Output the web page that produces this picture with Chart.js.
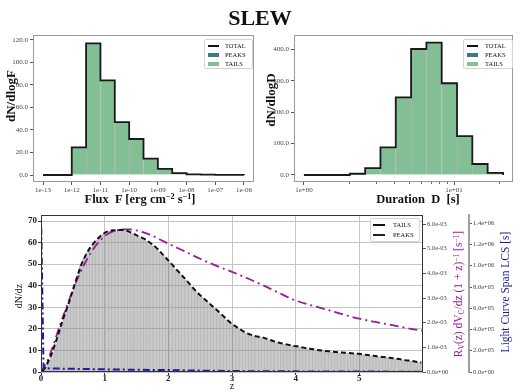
<!DOCTYPE html>
<html>
<head>
<meta charset="utf-8">
<script src="https://cdn.jsdelivr.net/npm/chart.js@4.4.0/dist/chart.umd.min.js"></script>
<style>
body { margin: 0; background: #fff; }
#main { position: relative; width: 519px; height: 390px; overflow: hidden; font-family: 'Liberation Serif', 'DejaVu Serif', serif; color: #111; }
canvas { position: absolute; }
.txt { position: absolute; white-space: nowrap; transform: translate(-50%, -50%); line-height: 1; }
.rot { transform: translate(-50%, -50%) rotate(-90deg); }
.txt sup { font-size: 0.65em; vertical-align: 0.5em; line-height: 0; }
.txt sub { font-size: 0.65em; vertical-align: -0.25em; line-height: 0; }
.legend { position: absolute; border: 1px solid #d4d4d4; border-radius: 2px; background: rgba(255,255,255,0.9); font-size: 6.5px; }
.legend span { position: absolute; white-space: nowrap; line-height: 1; transform: translateY(-50%); }
.legend i { position: absolute; display: block; }
</style>
</head>
<body>
<div id="main">
	<canvas id="flux" width="262" height="178" style="left:0px;top:28px"></canvas>
	<canvas id="dur" width="257" height="178" style="left:262px;top:28px"></canvas>
	<canvas id="zdist" width="519" height="182" style="left:0px;top:208px"></canvas>

	<div class="txt" style="left:260px;top:18px;font-size:22px;font-weight:bold">SLEW</div>
	<div class="txt" style="left:140px;top:199px;font-size:12.5px;font-weight:bold">Flux&nbsp; F [erg cm<sup>−2</sup> s<sup>−1</sup>]</div>
	<div class="txt" style="left:418px;top:199px;font-size:12.5px;font-weight:bold">Duration&nbsp; D&nbsp; [s]</div>
	<div class="txt rot" style="left:10px;top:96px;font-size:13px;font-weight:bold">dN/dlogF</div>
	<div class="txt rot" style="left:270px;top:100px;font-size:13px;font-weight:bold">dN/dlogD</div>
	<div class="txt rot" style="left:19px;top:296px;font-size:10px">dN/dz</div>
	<div class="txt" style="left:232px;top:386px;font-size:10px">z</div>
	<div class="txt rot" style="left:459px;top:294px;font-size:11.5px;color:#9a1a9a">R<sub>V</sub>(z) dV<sub>C</sub>/dz (1 + z)<sup>−1</sup> [s<sup>−1</sup>]</div>
	<div class="txt rot" style="left:506px;top:292px;font-size:11.5px;color:#1c1ca0">Light Curve Span LCS [s]</div>

	<div class="legend" style="left:204px;top:39px;width:47px;height:28px">
		<i style="left:3px;top:5px;width:11px;height:1.8px;background:#111"></i><span style="left:20px;top:6px">TOTAL</span>
		<i style="left:3px;top:12.5px;width:11px;height:4.5px;background:#3b7a82"></i><span style="left:20px;top:15px">PEAKS</span>
		<i style="left:3px;top:21.5px;width:11px;height:4.5px;background:#83bf95"></i><span style="left:20px;top:24px">TAILS</span>
	</div>
	<div class="legend" style="left:463px;top:39px;width:48px;height:28px">
		<i style="left:3px;top:5px;width:11px;height:1.8px;background:#111"></i><span style="left:21px;top:6px">TOTAL</span>
		<i style="left:3px;top:12.5px;width:11px;height:4.5px;background:#3b7a82"></i><span style="left:21px;top:15px">PEAKS</span>
		<i style="left:3px;top:21.5px;width:11px;height:4.5px;background:#83bf95"></i><span style="left:21px;top:24px">TAILS</span>
	</div>
	<div class="legend" style="left:370px;top:218px;width:48px;height:22px">
		<i style="left:2px;top:5px;width:12px;height:0;border-top:2px dashed #111"></i><span style="left:22px;top:6px">TAILS</span>
		<i style="left:2px;top:15px;width:12px;height:1.5px;background:#222"></i><span style="left:22px;top:16px">PEAKS</span>
	</div>
</div>

<script>
// flux histogram (log10 of flux on x)
const fluxEdges = [-13, -12.5, -12, -11.5, -11, -10.5, -10, -9.5, -9, -8.5, -8, -7.5, -7, -6.5, -6]
const fluxCounts = [0, 0, 24.5, 117, 84, 47, 32, 14.5, 5.5, 1.6, 0.6, 0.3, 0.2, 0.1]
const fluxTicks = [-13, -12, -11, -10, -9, -8, -7, -6]
const fluxYTicks = [0, 20, 40, 60, 80, 100, 120]

// duration histogram (log10 of duration on x)
const durEdges = [0, 0.102, 0.204, 0.306, 0.408, 0.51, 0.612, 0.714, 0.816, 0.918, 1.02, 1.122, 1.224, 1.327]
const durCounts = [0, 0, 0, 4, 22, 88, 247, 401, 421, 292, 124, 35, 7]
const durTicks = [0, 1]
const durMinorTicks = [0.301, 0.477, 0.602, 0.699, 0.778, 0.845, 0.903, 0.954, 1.301]
const durYTicks = [0, 100, 200, 300, 400]

// redshift distribution, bins of 0.05 from z = 0 to 6
const zBinWidth = 0.05
const tailsCounts = [
	0.5, 2.2, 5.7, 9.0, 13.3, 17.8, 22.5, 27.0, 31.0, 35.6,
	40.3, 44.8, 49.2, 52.6, 55.5, 57.8, 59.6, 61.3, 62.8, 64.0,
	65.0, 65.4, 65.7, 65.6, 65.8, 65.9, 65.6, 65.2, 64.5, 63.8,
	63.0, 62.4, 61.7, 60.8, 59.7, 58.6, 57.2, 55.7, 54.1, 52.5,
	50.9, 49.3, 47.6, 46.0, 44.4, 42.8, 41.1, 39.4, 37.8, 36.3,
	34.9, 33.6, 32.4, 31.0, 29.7, 28.4, 27.0, 25.6, 24.2, 22.9,
	21.8, 20.8, 19.8, 18.9, 18.1, 17.5, 17.0, 16.6, 16.3, 16.1,
	15.6, 15.1, 14.6, 14.1, 13.7, 13.3, 13.0, 12.7, 12.4, 12.1,
	11.9, 11.6, 11.3, 11.0, 10.8, 10.6, 10.3, 10.1, 9.9, 9.7,
	9.6, 9.4, 9.3, 9.1, 9.0, 8.9, 8.8, 8.7, 8.6, 8.5,
	8.3, 8.1, 7.9, 7.7, 7.5, 7.3, 7.1, 6.9, 6.8, 6.6,
	6.4, 6.2, 6.0, 5.8, 5.5, 5.3, 5.1, 4.9, 4.6, 4.4
]
const rateZ = [0, 0.1, 0.2, 0.3, 0.4, 0.5, 0.6, 0.7, 0.8, 0.9, 1.0, 1.1, 1.2, 1.3, 1.4, 1.5, 1.6, 1.7, 1.8, 1.9, 2.0,
	2.25, 2.5, 2.75, 3.0, 3.25, 3.5, 3.75, 4.0, 4.25, 4.5, 4.75, 5.0, 5.25, 5.5, 5.75, 6.0]
const rateVals = [0, 4.4e-4, 1.14e-3, 1.92e-3, 2.62e-3, 3.32e-3, 3.94e-3, 4.46e-3, 4.90e-3, 5.25e-3, 5.51e-3, 5.67e-3,
	5.75e-3, 5.78e-3, 5.78e-3, 5.74e-3, 5.67e-3, 5.58e-3, 5.46e-3, 5.33e-3, 5.20e-3,
	4.90e-3, 4.59e-3, 4.31e-3, 4.06e-3, 3.79e-3, 3.50e-3, 3.19e-3, 2.90e-3, 2.70e-3, 2.52e-3, 2.33e-3,
	2.16e-3, 2.03e-3, 1.91e-3, 1.78e-3, 1.67e-3]
const lcsZ = [0.004, 0.04, 0.3, 0.7, 1.0, 1.5, 2.0, 2.5, 3.0, 3.5, 4.0, 5.0, 6.0]
const lcsVals = [1.36e6, 3.5e4, 3.2e4, 2.8e4, 2.5e4, 2.1e4, 1.8e4, 1.3e4, 9e3, 7e3, 6e3, 4e3, 3e3]
const zTicks = [0, 1, 2, 3, 4, 5]
const dndzTicks = [0, 10, 20, 30, 40, 50, 60, 70]
const rateTicks = [0, 1e-3, 2e-3, 3e-3, 4e-3, 5e-3, 6e-3]
const lcsTicks = [0, 2e5, 4e5, 6e5, 8e5, 1e6, 1.2e6, 1.4e6]

const SERIF = "'Liberation Serif', 'DejaVu Serif', serif"
const GREEN = '#83bf95'
const PURPLE = '#9a1a9a'
const BLUE = '#1c1ca0'

// box round the plot area, plus short unlabelled minor ticks under the x axis
const framePlugin = {
	id: 'frame',
	afterDatasetsDraw(chart, args, opts) {
		if (!opts.color) return
		const ctx = chart.ctx
		const a = chart.chartArea
		ctx.save()
		ctx.strokeStyle = opts.color
		ctx.lineWidth = opts.width || 1
		const l = Math.round(a.left) + 0.5, t = Math.round(a.top) + 0.5
		const r = Math.round(a.right) - 0.5, b = Math.round(a.bottom) - 0.5
		ctx.strokeRect(l, t, r - l, b - t)
		if (opts.minor) {
			ctx.strokeStyle = '#666'
			ctx.beginPath()
			for (let v of opts.minor) {
				const px = Math.round(chart.scales.x.getPixelForValue(v)) + 0.5
				ctx.moveTo(px, a.bottom)
				ctx.lineTo(px, a.bottom + 2)
			}
			ctx.stroke()
		}
		ctx.restore()
	}
}
Chart.register(framePlugin)

function expLabel(n) {
	return '1e' + (n < 0 ? '-' : '+') + String(Math.abs(n)).padStart(2, '0')
}

function sci(v) {
	return v.toExponential(1).replace(/e([+-])(\d)$/, 'e$10$2')
}

function fixTicks(values) {
	return scale => { scale.ticks = values.map(v => ({value: v})) }
}

function addHist(id, edges, counts, opts) {
	let bars = counts.map((c, i) => ({x: (edges[i] + edges[i + 1]) / 2, y: c}))
	let step = [{x: edges[0], y: 0}]
	counts.forEach((c, i) => step.push({x: edges[i], y: c}))
	step.push({x: edges[edges.length - 1], y: counts[counts.length - 1]})
	step.push({x: edges[edges.length - 1], y: 0})

	const ctx = document.getElementById(id).getContext('2d')
	return new Chart(ctx, {
		type: 'bar',
		data: {
			datasets: [
				{
					type: 'line',
					label: 'TOTAL',
					data: step,
					stepped: 'before',
					borderColor: '#1a1a1a',
					borderWidth: 1.8,
					pointRadius: 0,
					order: 0
				},
				{
					label: 'TAILS',
					data: bars,
					backgroundColor: GREEN,
					borderColor: '#b4b4b4',
					borderWidth: {left: 1, right: 0, top: 0, bottom: 0},
					borderSkipped: false,
					barPercentage: 1,
					categoryPercentage: 1,
					order: 1
				}
			]
		},
		options: {
			responsive: false,
			animation: false,
			devicePixelRatio: 1,
			layout: {padding: {top: 7, right: opts.padRight, left: 0, bottom: 0}},
			plugins: {
				legend: {display: false},
				tooltip: {enabled: false},
				frame: {color: '#9a9a9a', minor: opts.minor}
			},
			scales: {
				x: {
					type: 'linear',
					offset: false,
					min: opts.xMin,
					max: opts.xMax,
					afterBuildTicks: fixTicks(opts.xTicks),
					afterFit: s => { s.height = 24 },
					grid: {drawOnChartArea: false, tickLength: 3, tickColor: '#555', offset: false},
					border: {display: false},
					ticks: {
						maxRotation: 0,
						autoSkip: false,
						padding: 1,
						color: '#444',
						font: {family: SERIF, size: 7},
						callback: v => expLabel(v)
					}
				},
				y: {
					min: opts.yMin,
					max: opts.yMax,
					afterBuildTicks: fixTicks(opts.yTicks),
					afterFit: s => { s.width = opts.yWidth },
					grid: {drawOnChartArea: false, tickLength: 3, tickColor: '#555'},
					border: {display: false},
					ticks: {
						padding: 2,
						color: '#444',
						font: {family: SERIF, size: 7},
						callback: v => v.toFixed(1)
					}
				}
			}
		}
	})
}

addHist('flux', fluxEdges, fluxCounts, {
	xMin: -13.35, xMax: -5.65, yMin: -6.2, yMax: 124.4,
	xTicks: fluxTicks, yTicks: fluxYTicks, yWidth: 33, padRight: 8
})

addHist('dur', durEdges, durCounts, {
	xMin: -0.066, xMax: 1.393, yMin: -22.3, yMax: 445.5,
	xTicks: durTicks, minor: durMinorTicks, yTicks: durYTicks, yWidth: 32, padRight: 6
})

// bottom panel
const tailBars = tailsCounts.map((c, i) => ({x: (i + 0.5) * zBinWidth, y: c}))
const rateLine = rateZ.map((z, i) => ({x: z, y: rateVals[i]}))
const lcsLine = lcsZ.map((z, i) => ({x: z, y: lcsVals[i]}))

new Chart(document.getElementById('zdist').getContext('2d'), {
	type: 'bar',
	data: {
		datasets: [
			{
				type: 'line',
				label: 'LCS',
				data: lcsLine,
				yAxisID: 'lcs',
				borderColor: BLUE,
				borderWidth: 2,
				borderDash: [7, 3, 2, 3],
				pointRadius: 0,
				order: 0
			},
			{
				type: 'line',
				label: 'TAILS',
				data: tailBars,
				yAxisID: 'y',
				borderColor: '#111',
				borderWidth: 2,
				borderDash: [5, 3],
				pointRadius: 0,
				order: 1
			},
			{
				type: 'line',
				label: 'rate',
				data: rateLine,
				yAxisID: 'rate',
				borderColor: PURPLE,
				borderWidth: 1.8,
				borderDash: [9, 4, 2, 4],
				pointRadius: 0,
				cubicInterpolationMode: 'monotone',
				order: 2
			},
			{
				label: 'hist',
				data: tailBars,
				yAxisID: 'y',
				backgroundColor: 'rgba(150,150,150,0.5)',
				borderColor: 'rgba(110,110,110,0.35)',
				borderWidth: {left: 0.7, right: 0, top: 0, bottom: 0},
				borderSkipped: false,
				barPercentage: 1,
				categoryPercentage: 1,
				order: 3
			}
		]
	},
	options: {
		responsive: false,
		animation: false,
		devicePixelRatio: 1,
		layout: {padding: {top: 7, right: 0, left: 0, bottom: 0}},
		plugins: {legend: {display: false}, tooltip: {enabled: false}, frame: {color: '#333'}},
		scales: {
			x: {
				type: 'linear',
				offset: false,
				min: 0,
				max: 6,
				afterBuildTicks: fixTicks(zTicks),
				afterFit: s => { s.height = 18 },
				grid: {color: '#c4c4c4', tickLength: 3, tickColor: '#333', offset: false},
				border: {display: false},
				ticks: {padding: -2, color: '#222', font: {family: SERIF, size: 9, weight: 'bold'}}
			},
			y: {
				position: 'left',
				min: 0,
				max: 72.8,
				afterBuildTicks: fixTicks(dndzTicks),
				afterFit: s => { s.width = 41 },
				grid: {color: '#c4c4c4', tickLength: 3, tickColor: '#333'},
				border: {display: false},
				ticks: {padding: 1, color: '#222', font: {family: SERIF, size: 9, weight: 'bold'}}
			},
			rate: {
				position: 'right',
				weight: 0,
				min: 0,
				max: 6.365e-3,
				afterBuildTicks: fixTicks(rateTicks),
				afterFit: s => { s.width = 46 },
				grid: {drawOnChartArea: false, tickLength: 3, tickColor: '#555'},
				border: {display: false},
				ticks: {padding: 1, color: '#444', font: {family: SERIF, size: 6.5}, callback: v => sci(v)}
			},
			lcs: {
				position: 'right',
				weight: 1,
				min: 0,
				max: 1.478e6,
				afterBuildTicks: fixTicks(lcsTicks),
				afterFit: s => { s.width = 50 },
				grid: {drawOnChartArea: false, tickLength: 3, tickColor: '#555'},
				border: {display: true, color: '#a0a0a0', width: 2},
				ticks: {padding: 1, color: '#444', font: {family: SERIF, size: 6.5}, callback: v => sci(v)}
			}
		}
	}
})
</script>
</body>
</html>
